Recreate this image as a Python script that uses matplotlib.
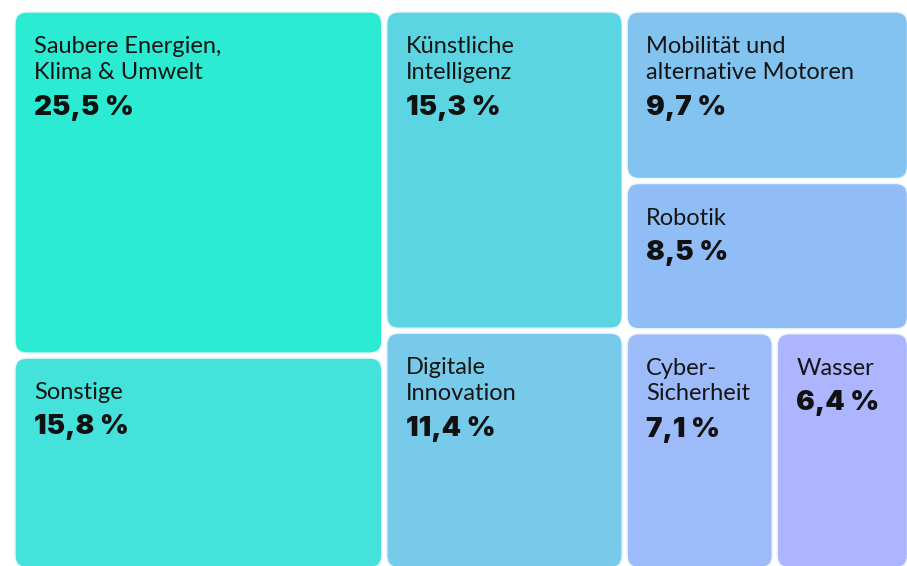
import matplotlib.pyplot as plt
from matplotlib.patches import FancyBboxPatch

# Anteile nach Themenbereich (in %)
labels = ["Saubere Energien,\nKlima & Umwelt", "Sonstige",
          "Künstliche\nIntelligenz", "Digitale\nInnovation",
          "Mobilität und\nalternative Motoren", "Robotik",
          "Cyber-\nSicherheit", "Wasser"]
values = [25.5, 15.8, 15.3, 11.4, 9.7, 8.5, 7.1, 6.4]
colors = ["#2cebd3", "#45e1db", "#5cd5e2", "#77cae9",
          "#83c3f0", "#90bdf5", "#9ebbf9", "#acb5fe"]

# Aufbau: Spalten, jede Zeile ist eine Liste von Indizes nebeneinander
columns = [[[0], [1]], [[2], [3]], [[4], [5], [6, 7]]]

W, H = 907, 566
x0, y0, x1, y1 = 12.5, 9.5, 910, 570
gap = 2.5
radius = 12

fig = plt.figure(figsize=(W / 100, H / 100), dpi=100)
ax = fig.add_axes([0, 0, 1, 1])
ax.set_xlim(0, W)
ax.set_ylim(H, 0)
ax.axis("off")

total = sum(values)
rects = {}
x = x0
for col in columns:
    col_sum = sum(values[i] for row in col for i in row)
    cw = (x1 - x0) * col_sum / total
    y = y0
    for row in col:
        row_sum = sum(values[i] for i in row)
        rh = (y1 - y0) * row_sum / col_sum
        xx = x
        for i in row:
            w = cw * values[i] / row_sum
            rects[i] = (xx, y, w, rh)
            xx += w
        y += rh
    x += cw

for i, (rx, ry, rw, rh) in rects.items():
    box = FancyBboxPatch((rx + gap, ry + gap), rw - 2 * gap, rh - 2 * gap,
                         boxstyle=f"round,pad=0,rounding_size={radius}",
                         facecolor=colors[i], edgecolor="#e8f6fb", linewidth=1,
                         clip_on=False)
    ax.add_patch(box)
    n = labels[i].count("\n") + 1
    ax.annotate(labels[i], (rx + gap, ry + gap), xytext=(19, -24),
                textcoords="offset pixels", ha="left", va="top",
                fontsize=17, family="Lato", color="#151515",
                linespacing=1.27)
    pct = f"{values[i]:.1f} %".replace(".", ",")
    ax.annotate(pct, (rx + gap, ry + gap), xytext=(19, -29 - 27 * n),
                textcoords="offset pixels", ha="left", va="top",
                fontsize=20, family="Inter", fontweight="black",
                color="#111111")

fig.savefig("out.png", dpi=100)
